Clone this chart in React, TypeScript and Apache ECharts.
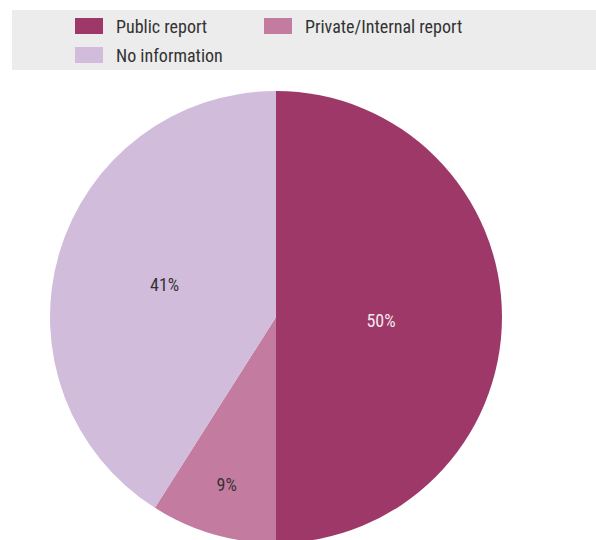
import React, { useEffect, useRef } from "react";
import * as echarts from "echarts";

const categories = ["Public report", "Private/Internal report", "No information"];
const values = [50, 9, 41];
const colors = ["#9E3869", "#C47BA0", "#D2BCDB"];
const labelColors = ["#F3E8EE", "#333333", "#333333"];

const FONT = "'Roboto Condensed', Roboto, sans-serif";

export default function App() {
  const ref = useRef<HTMLDivElement>(null);
  useEffect(() => {
    if (!ref.current) return;
    const chart = echarts.init(ref.current, null, { renderer: "svg" });
    const labelShift: Record<number, [number, number]> = {
      0: [-11, 3],
      1: [-17, 56],
      2: [0, 0],
    };
    chart.setOption({
      animation: false,
      textStyle: { fontFamily: FONT },
      graphic: [
        {
          type: "rect",
          z: -10,
          shape: { x: 12, y: 10, width: 584, height: 60 },
          style: { fill: "#ECECEC" },
          silent: true,
        },
      ],
      legend: {
        left: 75,
        top: 17,
        width: 430,
        padding: 0,
        itemGap: 11,
        itemWidth: 28,
        itemHeight: 16,
        icon: "rect",
        data: categories,
        textStyle: {
          fontFamily: FONT,
          fontSize: 18,
          color: "#333333",
          width: 137,
          lineHeight: 16,
          padding: [0, 0, 0, 8],
        },
      },
      series: [
        {
          type: "pie",
          center: [276, 317],
          radius: 226,
          startAngle: 90,
          clockwise: true,
          silent: true,
          label: {
            show: true,
            position: "inside",
            fontFamily: FONT,
            fontSize: 18,
            formatter: (p: any) => p.value + "%",
          },
          labelLine: { show: false },
          labelLayout: (p: any) => {
            const s = labelShift[p.dataIndex] || [0, 0];
            return { dx: s[0], dy: s[1] };
          },
          data: categories.map((name, i) => ({
            name,
            value: values[i],
            itemStyle: { color: colors[i] },
            label: { color: labelColors[i] },
          })),
        },
      ],
    });
    return () => chart.dispose();
  }, []);
  return (
    <div
      ref={ref}
      style={{ position: "fixed", left: 0, top: 0, width: 596, height: 540, background: "#ffffff" }}
    />
  );
}
